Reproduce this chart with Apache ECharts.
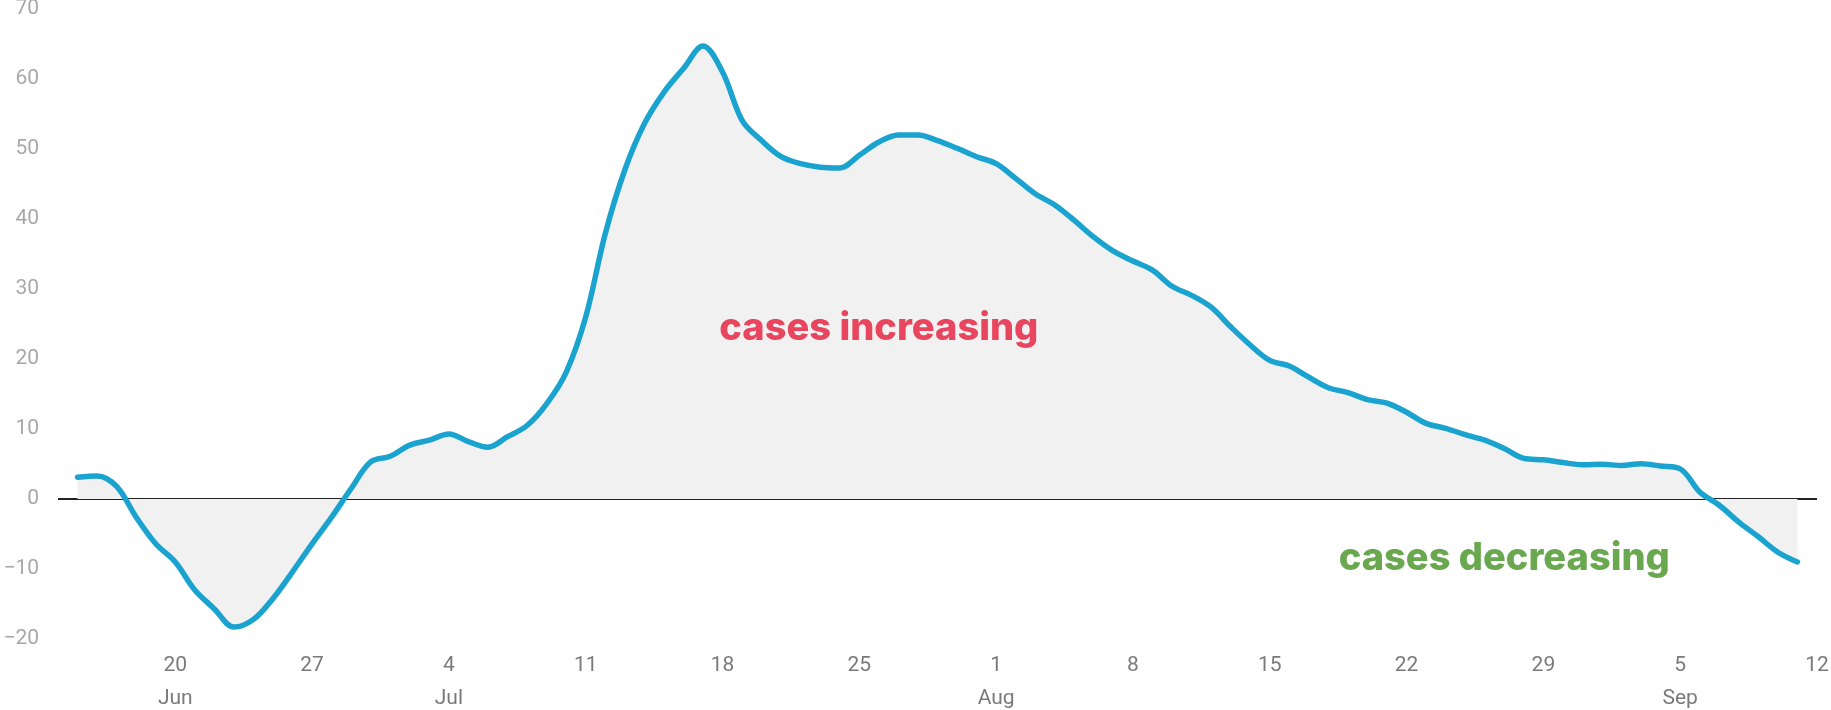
<!DOCTYPE html>
<html>
<head>
<meta charset="utf-8">
<script src="https://cdn.jsdelivr.net/npm/echarts@6/dist/echarts.min.js"></script>
<style>
  html, body { margin: 0; padding: 0; background: #fff; }
  #chartContainer { width: 1831px; height: 710px; }
</style>
</head>
<body>
<div id="chartContainer"></div>
<script>
// day categories, Jun 14 .. Sep 12
var monthNames = ['Jun', 'Jul', 'Aug', 'Sep'];
var monthStart = [14, 1, 1, 1];
var monthEnd = [30, 31, 31, 12];
var days = [];
for (var m = 0; m < monthNames.length; m++) {
    for (var d = monthStart[m]; d <= monthEnd[m]; d++) {
        days.push(monthNames[m] + ' ' + d);
    }
}

// change in cases, Jun 15 .. Sep 11 (null at both ends of the axis)
var caseChange = [
    null,
    3.1, 3.3, 1.8, -2.6, -6.4, -9.0, -13.0, -15.7, -18.3, -17.2,
    -14.2, -10.4, -6.4, -2.6, 1.5, 5.3, 6.1, 7.7, 8.4, 9.3,
    8.2, 7.4, 8.9, 10.5, 13.6, 18.1, 26.0, 37.9, 47.0, 53.6,
    58.1, 61.5, 64.7, 61.0, 54.1, 51.2, 48.9, 47.9, 47.4, 47.3,
    49.1, 51.0, 52.0, 52.0, 51.2, 50.1, 48.9, 47.9, 45.8, 43.6,
    42.0, 39.8, 37.4, 35.4, 34.0, 32.7, 30.4, 29.1, 27.4, 24.6,
    22.0, 19.8, 19.0, 17.4, 15.9, 15.2, 14.2, 13.7, 12.4, 10.8,
    10.1, 9.2, 8.4, 7.2, 5.8, 5.6, 5.2, 4.9, 4.95, 4.8,
    5.05, 4.7, 4.3, 1.0, -0.9, -3.3, -5.4, -7.6, -9.0,
    null
];

var yTicks = [-20, -10, 0, 10, 20, 30, 40, 50, 60, 70];

var chart = echarts.init(document.getElementById('chartContainer'), null, { renderer: 'canvas' });

var option = {
    animation: false,
    grid: {
        left: 58,
        right: 14,
        top: 9,
        bottom: 71,
        containLabel: false,
        outerBoundsMode: 'none'
    },
    xAxis: {
        type: 'category',
        data: days,
        boundaryGap: false,
        axisLine: { show: false },
        axisTick: { show: false },
        splitLine: { show: false },
        axisLabel: {
            interval: function (index) {
                return (index - 6) % 7 === 0;
            },
            margin: 10,
            color: '#7a7a7a',
            fontFamily: 'Roboto',
            fontSize: 21,
            lineHeight: 33,
            formatter: function (value, index) {
                var parts = value.split(' ');
                var dayNum = parseInt(parts[1], 10);
                if (index === 6 || dayNum <= 7) {
                    return dayNum + '\n' + parts[0];
                }
                return String(dayNum);
            }
        }
    },
    yAxis: {
        type: 'value',
        min: yTicks[0],
        max: yTicks[yTicks.length - 1],
        interval: 10,
        axisLine: { show: false },
        axisTick: { show: false },
        splitLine: { show: false },
        axisLabel: {
            margin: 19,
            color: '#a8a8a8',
            fontFamily: 'Roboto',
            fontSize: 21,
            formatter: function (v) {
                return String(v).replace('-', '\u2212');
            }
        }
    },
    series: [
        {
            name: 'change',
            type: 'line',
            data: caseChange,
            smooth: 0.35,
            showSymbol: false,
            symbol: 'none',
            z: 3,
            lineStyle: { color: '#1ba3d0', width: 5.5, cap: 'round', join: 'round' },
            areaStyle: { color: '#f1f1f1', opacity: 1, origin: 0 },
            markLine: {
                silent: true,
                symbol: 'none',
                z: 2,
                label: { show: false },
                lineStyle: { color: '#222', width: 2, type: 'solid' },
                data: [{ yAxis: 0 }]
            },
            markPoint: {
                silent: true,
                symbol: 'circle',
                symbolSize: 1,
                itemStyle: { color: 'rgba(0,0,0,0)' },
                label: {
                    show: true,
                    position: 'inside',
                    fontFamily: 'Inter',
                    fontWeight: 800,
                    fontSize: 38
                },
                data: [
                    {
                        coord: ['Jul 26', 24.4],
                        label: { formatter: 'cases increasing', color: '#e8465f' }
                    },
                    {
                        coord: ['Aug 27', -8.5],
                        label: { formatter: 'cases decreasing', color: '#6aa84f' }
                    }
                ]
            }
        }
    ]
};

chart.setOption(option);
window.addEventListener('resize', chart.resize);
</script>
</body>
</html>
